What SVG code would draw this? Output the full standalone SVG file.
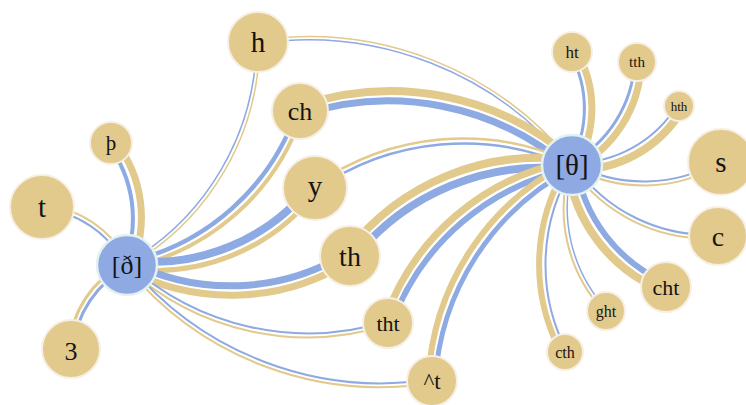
<svg xmlns="http://www.w3.org/2000/svg" width="746" height="405" viewBox="0 0 746 405">
<style>
.b{fill:none;stroke:#8eaae2}
.t{fill:none;stroke:#e2c98c}
.n circle{fill:#e2c98c;stroke:#f7efe4;stroke-width:2}
.hub circle{fill:#8fa9e2;stroke:#e3f2f0;stroke-width:2.5}
text{font-family:"Liberation Serif","DejaVu Serif",serif;fill:#141414;text-anchor:middle;dominant-baseline:central}
</style>
<rect width="746" height="405" fill="#fff"/>
<g id="connectors">
<path class="b" stroke-width="4" d="M123.5,265.5 A123,123 0 0 0 107.5,143.5"/>
<path class="t" stroke-width="7" d="M132,264.4 A123,123 0 0 0 116,142.4"/>
<path class="b" stroke-width="2" d="M125.9,266.7 A103,103 0 0 0 40.9,208.7"/>
<path class="t" stroke-width="2" d="M128.1,263.3 A103,103 0 0 0 43.1,205.3"/>
<path class="b" stroke-width="3" d="M129.1,266.4 A101,101 0 0 0 73.1,350.4"/>
<path class="t" stroke-width="3" d="M124.9,263.6 A101,101 0 0 0 68.9,347.6"/>
<path class="b" stroke-width="1.5" d="M125.5,264.1 A258.6,258.6 0 0 0 256.5,41.1"/>
<path class="t" stroke-width="1.5" d="M128.5,265.9 A258.6,258.6 0 0 0 259.5,42.9"/>
<path class="b" stroke-width="4.5" d="M124.7,262.4 A231.6,231.6 0 0 0 297.7,108.4"/>
<path class="t" stroke-width="4" d="M129.2,267.4 A231.6,231.6 0 0 0 302.2,113.4"/>
<path class="b" stroke-width="8" d="M125,260.1 A203.2,203.2 0 0 0 313,183.1"/>
<path class="t" stroke-width="5" d="M128.4,268.5 A203.2,203.2 0 0 0 316.4,191.5"/>
<path class="b" stroke-width="7" d="M126.8,260.3 A223.2,223.2 0 0 0 349.8,251.3"/>
<path class="t" stroke-width="7" d="M127.2,269.7 A223.2,223.2 0 0 0 350.2,260.7"/>
<path class="b" stroke-width="2" d="M127.4,263 A267.4,267.4 0 0 0 388.4,321"/>
<path class="t" stroke-width="2" d="M126.6,267 A267.4,267.4 0 0 0 387.6,325"/>
<path class="b" stroke-width="2" d="M127.7,263.1 A326.3,326.3 0 0 0 432.7,379.1"/>
<path class="t" stroke-width="2" d="M126.3,266.9 A326.3,326.3 0 0 0 431.3,382.9"/>
<path class="b" stroke-width="1.5" d="M571.4,166.6 A337.2,337.2 0 0 0 257.4,43.6"/>
<path class="t" stroke-width="1.5" d="M572.6,163.4 A337.2,337.2 0 0 0 258.6,40.4"/>
<path class="b" stroke-width="7" d="M571.1,169.7 A277.3,277.3 0 0 0 299.1,115.7"/>
<path class="t" stroke-width="8" d="M573,159.8 A277.3,277.3 0 0 0 301,105.8"/>
<path class="b" stroke-width="2.5" d="M572.2,167.5 A258,258 0 0 0 315.2,190.5"/>
<path class="t" stroke-width="2.5" d="M571.8,162.5 A258,258 0 0 0 314.8,185.5"/>
<path class="b" stroke-width="8" d="M574,169.9 A239.9,239.9 0 0 0 352,260.9"/>
<path class="t" stroke-width="8" d="M570,160.1 A239.9,239.9 0 0 0 348,251.1"/>
<path class="b" stroke-width="6" d="M574.8,168.2 A242.5,242.5 0 0 0 390.8,326.2"/>
<path class="t" stroke-width="7" d="M568.9,161.4 A242.5,242.5 0 0 0 384.9,319.4"/>
<path class="b" stroke-width="5" d="M575.1,167 A257.4,257.4 0 0 0 435.1,383"/>
<path class="t" stroke-width="6" d="M568.4,162.7 A257.4,257.4 0 0 0 428.4,378.7"/>
<path class="b" stroke-width="3" d="M569.25,165 A113,113 0 0 0 569.25,52"/>
<path class="t" stroke-width="7" d="M576.75,165 A113,113 0 0 0 576.75,52"/>
<path class="b" stroke-width="3" d="M569.7,163.5 A121.8,121.8 0 0 0 634.7,60.5"/>
<path class="t" stroke-width="7" d="M576,167.5 A121.8,121.8 0 0 0 641,64.5"/>
<path class="b" stroke-width="2" d="M570.9,163 A122.2,122.2 0 0 0 677.9,104"/>
<path class="t" stroke-width="8" d="M574.5,169.6 A122.2,122.2 0 0 0 681.5,110.6"/>
<path class="b" stroke-width="2" d="M572,163 A149,149 0 0 0 721,160"/>
<path class="t" stroke-width="2" d="M572,167 A149,149 0 0 0 721,164"/>
<path class="b" stroke-width="2" d="M572.9,163.2 A162.3,162.3 0 0 0 718.9,234.2"/>
<path class="t" stroke-width="2" d="M571.1,166.8 A162.3,162.3 0 0 0 717.1,237.8"/>
<path class="b" stroke-width="6" d="M575.4,162.4 A154,154 0 0 0 669.4,284.4"/>
<path class="t" stroke-width="8" d="M567.8,168.2 A154,154 0 0 0 661.8,290.2"/>
<path class="b" stroke-width="1.5" d="M573.7,164.6 A149.9,149.9 0 0 0 607.7,310.6"/>
<path class="t" stroke-width="2" d="M570.1,165.5 A149.9,149.9 0 0 0 604.1,311.5"/>
<path class="b" stroke-width="2" d="M574.2,165.1 A187.1,187.1 0 0 0 567.2,352.1"/>
<path class="t" stroke-width="6" d="M567.8,164.8 A187.1,187.1 0 0 0 560.8,351.8"/>
</g>
<g id="node-thorn" class="n"><circle cx="111" cy="143" r="21"/><text x="111" y="143" font-size="21">þ</text></g>
<g id="node-t" class="n"><circle cx="42" cy="207" r="32"/><text x="42" y="207" font-size="29">t</text></g>
<g id="node-3" class="n"><circle cx="71" cy="349" r="29"/><text x="71" y="351" font-size="26">3</text></g>
<g id="node-h" class="n"><circle cx="258" cy="42" r="30"/><text x="258" y="42" font-size="29">h</text></g>
<g id="node-ch" class="n"><circle cx="300" cy="111" r="28"/><text x="300" y="111" font-size="26">ch</text></g>
<g id="node-y" class="n"><circle cx="315" cy="188" r="32"/><text x="315" y="186" font-size="29">y</text></g>
<g id="node-th" class="n"><circle cx="350" cy="256" r="30"/><text x="350" y="256" font-size="28">th</text></g>
<g id="node-tht" class="n"><circle cx="388" cy="323" r="25"/><text x="388" y="323" font-size="22">tht</text></g>
<g id="node-caret-t" class="n"><circle cx="432" cy="381" r="25"/><text x="432" y="381" font-size="23">^t</text></g>
<g id="node-ht" class="n"><circle cx="572" cy="52" r="20"/><text x="572" y="52" font-size="17">ht</text></g>
<g id="node-tth" class="n"><circle cx="637" cy="62" r="19"/><text x="637" y="62" font-size="15">tth</text></g>
<g id="node-hth" class="n"><circle cx="679" cy="106" r="15"/><text x="679" y="106" font-size="13">hth</text></g>
<g id="node-s" class="n"><circle cx="721" cy="162" r="33"/><text x="721" y="162" font-size="29">s</text></g>
<g id="node-c" class="n"><circle cx="718" cy="236" r="29"/><text x="718" y="236" font-size="28">c</text></g>
<g id="node-cht" class="n"><circle cx="666" cy="287" r="25"/><text x="666" y="287" font-size="22">cht</text></g>
<g id="node-ght" class="n"><circle cx="606" cy="311" r="19"/><text x="606" y="311" font-size="16">ght</text></g>
<g id="node-cth" class="n"><circle cx="565" cy="352" r="18"/><text x="565" y="352" font-size="16">cth</text></g>
<g id="hub-eth" class="hub"><circle cx="127" cy="265" r="30"/><text x="127" y="265" font-size="26">[ð]</text></g>
<g id="hub-theta" class="hub"><circle cx="572" cy="165" r="30"/><text x="572" y="165" font-size="29">[θ]</text></g>
</svg>
